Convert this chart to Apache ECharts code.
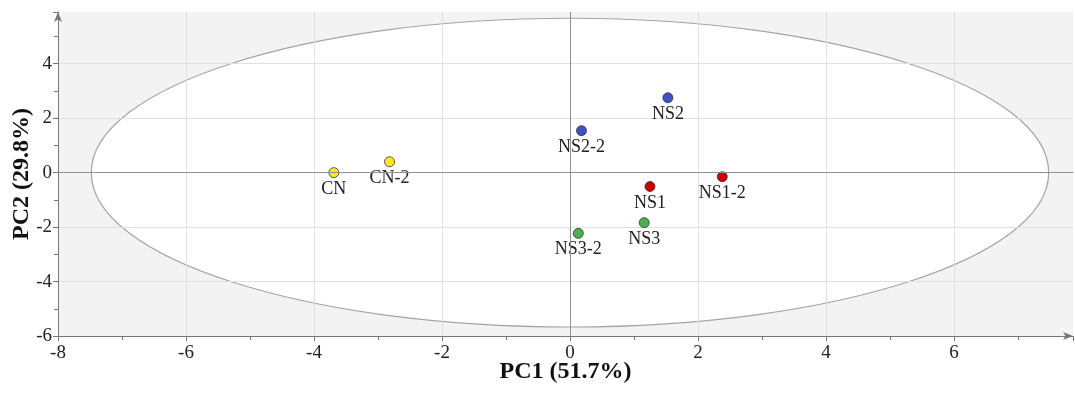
<!DOCTYPE html>
<html>
<head>
<meta charset="utf-8">
<script src="https://cdn.jsdelivr.net/npm/echarts@6/dist/echarts.min.js"></script>
<style>
  html, body { margin: 0; padding: 0; background: #fff; }
  #main { width: 1075px; height: 394px; }
</style>
</head>
<body>
<div id="main"></div>
<script>
// sample scores
const sampleNames = ['CN', 'CN-2', 'NS1', 'NS1-2', 'NS2', 'NS2-2', 'NS3', 'NS3-2'];
const pc1Scores = [-3.69, -2.82, 1.25, 2.38, 1.53, 0.18, 1.16, 0.13];
const pc2Scores = [0.0, 0.40, -0.51, -0.15, 2.75, 1.54, -1.84, -2.23];
const sampleColors = ['#ffe81a', '#ffe81a', '#c80000', '#c80000', '#3f51c4', '#3f51c4', '#4caf50', '#4caf50'];

// Hotelling ellipse: centre x, centre y, half-width, half-height
const ellipse = [0, 0, 7.48, 5.67];

const xRange = [-8, 7.86];
const yRange = [-6, 5.9];

const serif = '"Liberation Serif", "Times New Roman", serif';

const points = sampleNames.map((name, i) => ({
  name: name,
  value: [pc1Scores[i], pc2Scores[i]],
  itemStyle: { color: sampleColors[i] }
}));

const myChart = echarts.init(document.getElementById('main'));

const axisCommon = {
  type: 'value',
  interval: 2,
  axisLine: {
    show: true,
    onZero: false,
    symbol: ['none', 'arrow'],
    symbolSize: [6, 10],
    lineStyle: { color: '#777', width: 1 }
  },
  axisTick: { show: true, length: 5, lineStyle: { color: '#777' } },
  minorTick: { show: true, splitNumber: 2, length: 4, lineStyle: { color: '#777' } },
  splitLine: {
    show: true,
    showMinLine: false,
    showMaxLine: false,
    lineStyle: { color: '#e0e0e0', width: 1 }
  },
  axisLabel: {
    showMaxLabel: false,
    fontFamily: serif,
    fontSize: 19,
    color: '#222'
  },
  nameLocation: 'middle',
  nameMoveOverlap: false,
  nameTextStyle: {
    fontFamily: serif,
    fontSize: 24,
    fontWeight: 'bold',
    color: '#111'
  }
};

const options = {
  animation: false,
  grid: {
    left: 58,
    right: 2,
    top: 12,
    bottom: 58,
    outerBoundsMode: 'none',
    containLabel: false,
    show: true,
    backgroundColor: '#f3f3f3',
    borderWidth: 0
  },
  xAxis: Object.assign({}, axisCommon, {
    min: xRange[0],
    max: xRange[1],
    name: 'PC1 (51.7%)',
    nameGap: 24,
    axisLabel: Object.assign({}, axisCommon.axisLabel, { margin: 8 })
  }),
  yAxis: Object.assign({}, axisCommon, {
    min: yRange[0],
    max: yRange[1],
    name: 'PC2 (29.8%)',
    nameGap: 24,
    axisLabel: Object.assign({}, axisCommon.axisLabel, { margin: 6 })
  }),
  series: [
    {
      type: 'custom',
      z: 0,
      silent: true,
      data: [ellipse],
      renderItem: function (params, api) {
        const c = api.coord([api.value(0), api.value(1)]);
        const s = api.size([api.value(2), api.value(3)]);
        return {
          type: 'ellipse',
          z2: -0.5,
          shape: { cx: c[0], cy: c[1], rx: s[0], ry: s[1] },
          style: { fill: '#ffffff', stroke: '#a4a4a4', lineWidth: 1.2 }
        };
      }
    },
    {
      type: 'scatter',
      symbol: 'circle',
      symbolSize: 10,
      data: points,
      itemStyle: { borderColor: '#333', borderWidth: 0.8, opacity: 1 },
      label: {
        show: true,
        position: 'bottom',
        distance: 2,
        formatter: '{b}',
        fontFamily: serif,
        fontSize: 18,
        color: '#222'
      },
      markLine: {
        silent: true,
        symbol: ['none', 'none'],
        label: { show: false },
        lineStyle: { color: '#929292', width: 1, type: 'solid' },
        data: [{ xAxis: 0 }, { yAxis: 0 }]
      }
    }
  ]
};

myChart.setOption(options);
</script>
</body>
</html>
